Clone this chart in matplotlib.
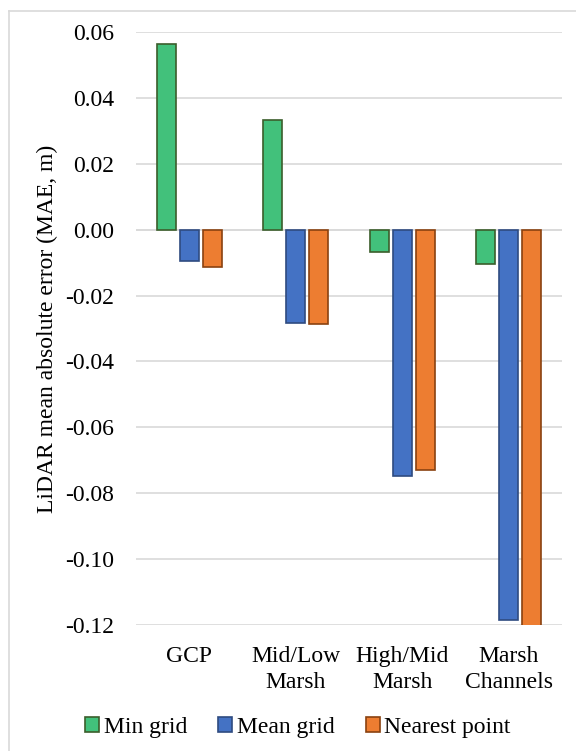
import matplotlib
matplotlib.use("Agg")
import matplotlib.pyplot as plt
import numpy as np
from matplotlib.lines import Line2D

categories = ["GCP", "Mid/Low\nMarsh", "High/Mid\nMarsh", "Marsh\nChannels"]
min_grid = [0.0563, 0.0334, -0.0067, -0.0104]
mean_grid = [-0.0096, -0.0284, -0.0747, -0.1185]
nearest_point = [-0.0114, -0.0287, -0.0730, -0.1202]
series_names = ["Min grid", "Mean grid", "Nearest point"]
yticks = [0.06, 0.04, 0.02, 0.00, -0.02, -0.04, -0.06, -0.08, -0.10, -0.12]

faces = ["#42C17B", "#4472C4", "#ED7D31"]
edges = ["#3B5E2B", "#2F4B80", "#8A4210"]

plt.rcParams['font.family'] = ['Liberation Serif', 'DejaVu Serif']
FS = 17

fig = plt.figure(figsize=(5.76, 7.51), dpi=100)
ax = fig.add_axes([136/576, 1-625/751, 426/576, 593/751])

x = np.arange(len(categories))
w = 0.18
off = 0.215
handles = []
for i, (vals, name) in enumerate(zip([min_grid, mean_grid, nearest_point], series_names)):
    b = ax.bar(x + (i-1)*off, vals, width=w, color=faces[i], edgecolor=edges[i],
               linewidth=1.2, label=name, zorder=3)
    handles.append(b)

ax.set_xlim(-0.5, len(categories)-0.5)
ax.set_ylim(-0.12, 0.06)
ax.set_yticks(yticks)
ax.set_yticklabels([f"{v:.2f}" for v in yticks], fontsize=FS)
ax.set_xticks(x)
ax.set_xticklabels(categories, fontsize=FS, linespacing=1.35)
ax.tick_params(axis='x', length=0, pad=15)
ax.tick_params(axis='y', length=0, pad=16)
for s in ax.spines.values():
    s.set_visible(False)
ax.yaxis.grid(True, color="#D9D9D9", linewidth=1.2, zorder=0)
ax.axhline(0, color="#D9D9D9", linewidth=1.2, zorder=1)
ax.set_ylabel("LiDAR mean absolute error (MAE, m)", fontsize=FS, labelpad=4.5)

fig.legend(handles=handles, labels=series_names, loc='center', bbox_to_anchor=(298/576, 1-727/751),
           ncol=3, frameon=False, fontsize=FS, handlelength=0.6, handleheight=0.6,
           handletextpad=0.2, columnspacing=1.3)

fig.add_artist(Line2D([8.5/576, 8.5/576], [0, 1-10.5/751], transform=fig.transFigure,
                      color="#D9D9D9", linewidth=1.2))
fig.add_artist(Line2D([8.5/576, 1], [1-10.5/751, 1-10.5/751], transform=fig.transFigure,
                      color="#D9D9D9", linewidth=1.2))

fig.savefig("out.png", dpi=100)
